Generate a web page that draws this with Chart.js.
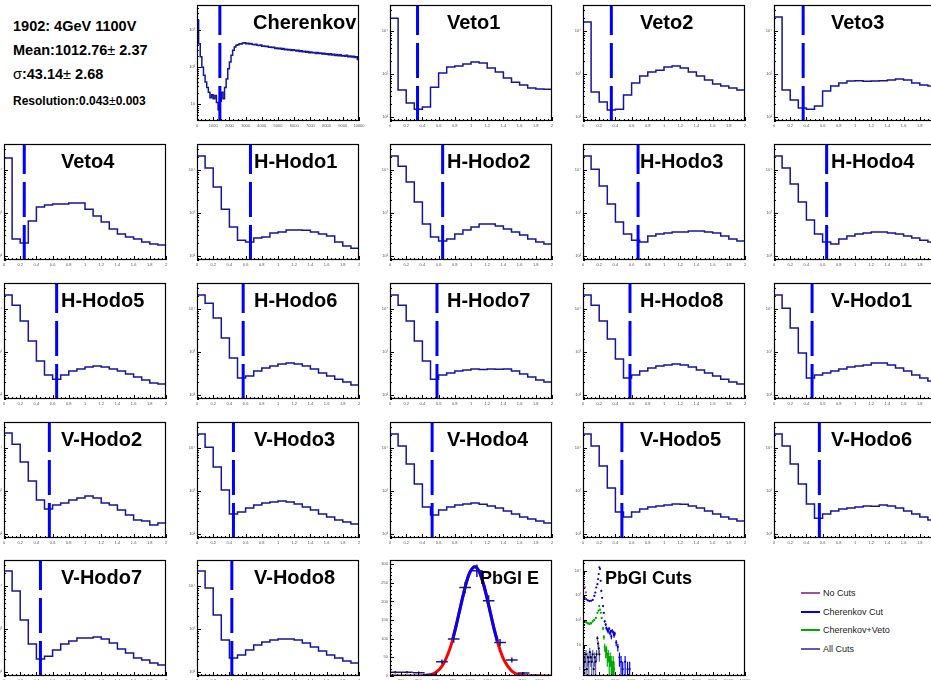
<!DOCTYPE html>
<html>
<head>
<meta charset="utf-8">
<title>1902: 4GeV 1100V</title>
<script src="https://cdn.jsdelivr.net/npm/chart.js@4/dist/chart.umd.min.js"></script>
<style>
  html, body { margin: 0; padding: 0; background: #fff; width: 931px; height: 680px; overflow: hidden; }
  body { position: relative; font-family: "Liberation Sans", Arial, sans-serif; }
  canvas { position: absolute; }
  .info { position: absolute; left: 13px; font-weight: bold; font-size: 14.5px; line-height: 14px; color: #000; white-space: nowrap; }
  .info .sym { font-weight: normal; }
  .lg { position: absolute; left: 801px; height: 10px; font-size: 9px; line-height: 10px; color: #222; white-space: nowrap; }
  .lg span { display: inline-block; width: 19px; height: 2px; vertical-align: middle; margin: -1px 3px 0 0; }
</style>
</head>
<body>
<div class="info" style="top:19px">1902: 4GeV 1100V</div>
<div class="info" style="top:43px">Mean:1012.76<span class="sym">±</span> 2.37</div>
<div class="info" style="top:67px"><span class="sym">σ</span>:43.14<span class="sym">±</span> 2.68</div>
<div class="info" style="top:95px;font-size:12px;line-height:12px">Resolution:0.043<span class="sym">±</span>0.003</div>
<script>
// ---------- data ----------
const hodoEdges = [0, 0.1, 0.2, 0.3, 0.4, 0.5, 0.6, 0.7, 0.8, 0.9, 1.0, 1.1, 1.2, 1.3, 1.4, 1.5, 1.6, 1.7, 1.8, 1.9, 2.0];
const hodoTicks = [0, 0.2, 0.4, 0.6, 0.8, 1.0, 1.2, 1.4, 1.6, 1.8, 2.0];
const hodoRange = [80, 40000];
const hodoYTicks = [100, 1000, 10000];

const veto1 = [19800, 420, 210, 150, 170, 490, 1040, 1440, 1520, 1690, 1880, 1780, 1360, 1100, 800, 640, 550, 470, 445, 440];
const veto2 = [16000, 376, 220, 144, 151, 321, 610, 887, 1100, 1220, 1440, 1520, 1360, 1100, 887, 716, 578, 519, 466, 419];
const veto3 = [20900, 419, 245, 160, 151, 178, 397, 519, 610, 679, 690, 675, 685, 690, 716, 755, 716, 610, 548, 519];
const veto4 = [18800, 245, 198, 643, 1360, 1520, 1600, 1610, 1690, 1700, 1220, 841, 610, 419, 321, 273, 245, 209, 188, 178];
const hHodo1 = [20900, 11000, 3970, 1220, 466, 232, 209, 259, 273, 338, 357, 397, 400, 395, 357, 321, 288, 209, 169, 151];
const hHodo2 = [20900, 12200, 5200, 1780, 548, 273, 220, 245, 321, 397, 466, 548, 550, 492, 419, 357, 304, 245, 209, 188];
const hHodo3 = [20900, 10400, 4200, 1600, 610, 321, 232, 209, 288, 321, 338, 357, 360, 376, 378, 357, 338, 288, 245, 220];
const hHodo4 = [20900, 11000, 4670, 1780, 679, 321, 209, 188, 245, 288, 321, 338, 357, 360, 338, 321, 288, 259, 232, 209];
const hHodo5 = [20900, 12200, 5200, 1780, 610, 288, 232, 288, 357, 397, 442, 466, 442, 397, 357, 304, 259, 220, 188, 178];
const hHodo6 = [20900, 13600, 6110, 2090, 716, 245, 273, 357, 419, 466, 519, 548, 519, 466, 397, 321, 273, 232, 198, 169];
const hHodo7 = [20900, 12200, 5200, 1780, 610, 232, 288, 321, 357, 376, 397, 390, 400, 395, 397, 357, 304, 259, 220, 198];
const hHodo8 = [20900, 12200, 5200, 1980, 679, 245, 288, 357, 419, 466, 492, 519, 492, 442, 376, 321, 273, 232, 198, 178];
const vHodo1 = [20900, 10400, 3570, 935, 245, 288, 321, 357, 397, 442, 466, 492, 548, 550, 492, 419, 357, 288, 245, 209];
const vHodo2 = [22100, 12200, 4670, 1690, 610, 376, 466, 519, 610, 679, 755, 679, 519, 466, 357, 273, 209, 198, 160, 178];
const vHodo3 = [20900, 10400, 3570, 1040, 288, 321, 397, 466, 519, 548, 578, 550, 492, 419, 357, 288, 245, 209, 188, 169];
const vHodo4 = [20900, 11000, 4200, 1440, 419, 273, 357, 419, 466, 492, 519, 490, 442, 397, 338, 288, 245, 220, 198, 178];
const vHodo5 = [20900, 11000, 3770, 1160, 321, 245, 321, 376, 419, 442, 466, 492, 490, 442, 397, 338, 288, 245, 220, 198];
const vHodo6 = [20900, 11000, 4200, 1440, 492, 232, 288, 338, 376, 397, 419, 442, 440, 466, 442, 397, 338, 288, 245, 209];
const vHodo7 = [22100, 7560, 1600, 442, 198, 232, 321, 442, 519, 610, 615, 643, 578, 466, 338, 273, 209, 188, 160, 144];
const vHodo8 = [22100, 8880, 2090, 548, 209, 245, 321, 419, 492, 548, 578, 580, 548, 466, 376, 304, 245, 209, 178, 160];

const hodoNames = ['Veto1', 'Veto2', 'Veto3', 'Veto4', 'H-Hodo1', 'H-Hodo2', 'H-Hodo3', 'H-Hodo4',
  'H-Hodo5', 'H-Hodo6', 'H-Hodo7', 'H-Hodo8', 'V-Hodo1', 'V-Hodo2', 'V-Hodo3', 'V-Hodo4',
  'V-Hodo5', 'V-Hodo6', 'V-Hodo7', 'V-Hodo8'];
const hodoCounts = [veto1, veto2, veto3, veto4, hHodo1, hHodo2, hHodo3, hHodo4, hHodo5, hHodo6,
  hHodo7, hHodo8, vHodo1, vHodo2, vHodo3, vHodo4, vHodo5, vHodo6, vHodo7, vHodo8];
const hodoCuts = [0.34, 0.35, 0.36, 0.25, 0.66, 0.65, 0.68, 0.65, 0.65, 0.57, 0.58, 0.58, 0.47,
  0.56, 0.45, 0.52, 0.48, 0.56, 0.45, 0.43];

const adcTicks = [0, 1000, 2000, 3000, 4000, 5000, 6000, 7000, 8000, 9000, 10000];
const cherenkovBinWidth = 100;
const cherenkovCut = 1410;
const cherenkovRange = [3.5, 4800];
const cherenkovYTicks = [10, 100, 1000];
const cherenkovCounts = [
  1860, 430, 190, 100, 60, 40, 28, 21, 15, 18,
  14, 17, 11, 7, 12, 21, 14, 28, 48, 90,
  137, 210, 285, 350, 390, 405, 430, 425, 450, 460,
  430, 445, 420, 438, 410, 402, 418, 392, 384, 396,
  365, 372, 360, 368, 346, 350, 338, 347, 322, 330,
  316, 326, 306, 318, 296, 303, 293, 299, 281, 294,
  286, 274, 288, 266, 276, 263, 271, 255, 266, 246,
  256, 244, 251, 236, 249, 233, 241, 228, 239, 222,
  231, 218, 229, 213, 223, 208, 219, 203, 216, 199,
  206, 198, 211, 191, 201, 188, 196, 183, 191, 162
];

const pbglCenters = [783, 817, 851, 884, 918, 952, 985, 1019, 1053, 1086, 1120, 1154, 1187];
const pbglCounts = [10, 10, 9, 4, 38, 99, 237, 282, 202, 90, 43, 8, 2];
const pbglBinWidth = 33.6;
const pbglRangeX = [768, 1236];
const pbglRangeY = [0, 311];
const pbglTicksX = [800, 850, 900, 950, 1000, 1050, 1100, 1150, 1200];
const pbglTicksY = [0, 50, 100, 150, 200, 250, 300];
const gausX = [768, 800, 830, 860, 880, 900, 920, 940, 950, 960, 970, 980, 990, 1000, 1013, 1025, 1040, 1050, 1060, 1070, 1080, 1090, 1100, 1120, 1140, 1160, 1180, 1210, 1236];
const gausY = [0, 0, 0.04, 0.55, 2.6, 9.6, 29, 70.5, 101, 138.5, 179, 219, 255, 280, 293, 281, 240, 202, 161, 121.5, 87, 59, 38, 13.3, 3.8, 0.87, 0.16, 0.01, 0];
const fitX = [950, 960, 970, 980, 990, 1000, 1013, 1025, 1040, 1050, 1060, 1070, 1078];
const fitY = [101, 138.5, 179, 219, 255, 280, 293, 281, 240, 202, 161, 121.5, 93.4];

const cutLabels = ['No Cuts', 'Cherenkov Cut', 'Cherenkov+Veto', 'All Cuts'];
const cutColors = ['#a050a0', '#0000ee', '#00aa00', '#5a5ab8'];
const cutsRange = [0.53, 27000];
const cutsYTicks = [1, 10, 100, 1000, 10000];
const noCutsX = [60, 120, 180];
const noCutsY = [3300, 2100, 1300];
const cherCutX = [100, 200, 300, 400, 500, 600, 700, 760, 820, 890, 930, 970, 1010, 1050, 1090, 1130, 1180, 1240, 1280, 1340, 1400, 1440, 1500, 1550, 1610, 1670, 1710, 1750, 1810, 1880, 1920, 1960, 2050, 2150, 2250, 2350, 2450, 2600, 2750, 2880];
const cherCutY = [790, 685, 620, 585, 600, 650, 940, 1290, 2070, 2820, 4550, 7300, 13700, 11700, 3870, 1500, 790, 365, 195, 88, 65, 47, 40, 34, 44, 29, 34, 21, 36, 30, 24, 28, 12, 8, 3, 2, 1, 2, 1, 1];
const vetoCutX = [100, 200, 300, 400, 500, 600, 700, 800, 890, 960, 1000, 1050, 1100, 1150, 1240, 1290, 1340, 1400, 1450, 1500, 1560, 1620, 1680, 1740, 1800, 1860, 1920];
const vetoCutY = [88, 80, 74, 69, 74, 88, 100, 120, 195, 240, 365, 260, 195, 120, 45, 20, 8, 5, 6, 3, 4, 2, 3, 2, 1, 2, 1];
const allCutsX = [60, 120, 180, 240, 300, 360, 420, 480, 540, 600, 660, 720, 780, 840, 890, 930, 970, 1010];
const allCutsY = [3, 2, 4, 1, 3, 2, 5, 3, 2, 4, 1, 3, 2, 4, 18, 11, 7, 4];

// ---------- layout ----------
const colLeft = [4, 197, 390, 583, 774];
const rowTop = [5, 144, 283, 422, 560];
const frameW = 162, frameH = 116;
const pad = {left: 16, top: 4, right: 6, bottom: 12};
const histColor = '#15159e';
const cutColor = '#0000ff';
const sup = {2: '\u00b2', 3: '\u00b3', 4: '\u2074'};

Chart.defaults.font.family = '"Liberation Sans", Arial, sans-serif';

function logLabel(v) {
  const e = Math.round(Math.log10(v));
  return e === 0 ? '1' : e === 1 ? '10' : '10' + sup[e];
}

function linMarks(values, min, max, nSub) {
  const out = [];
  const sub = (values[1] - values[0]) / nSub;
  const k0 = Math.ceil((min - values[0]) / sub - 1e-6);
  for (let k = k0; values[0] + k * sub <= max + 1e-6; k++) {
    out.push([values[0] + k * sub, ((k % nSub) + nSub) % nSub === 0]);
  }
  return out;
}

function logMarks(min, max) {
  const out = [];
  for (let e = Math.floor(Math.log10(min)); e <= Math.ceil(Math.log10(max)); e++) {
    for (let m = 1; m <= 9; m++) {
      const v = m * Math.pow(10, e);
      if (v >= min && v <= max) out.push([v, m === 1]);
    }
  }
  return out;
}

// frame, inner tick marks, tiny labels and the big pad title, ROOT style
const rootFrame = {
  id: 'rootFrame',
  afterDatasetsDraw(chart, args, o) {
    const {ctx, chartArea: a} = chart;
    const xs = chart.scales.x, ys = chart.scales.y;
    ctx.save();
    ctx.strokeStyle = '#000';
    ctx.lineWidth = 1;
    ctx.beginPath();
    const xm = linMarks(xs.ticks.map(t => t.value), xs.min, xs.max, 4);
    xm.forEach(([v, major]) => {
      const p = Math.round(xs.getPixelForValue(v)) + 0.5;
      ctx.moveTo(p, a.bottom);
      ctx.lineTo(p, a.bottom - (major ? 4 : 2));
    });
    const ym = ys.type === 'logarithmic' ? logMarks(ys.min, ys.max)
      : linMarks(ys.ticks.map(t => t.value), ys.min, ys.max, 5);
    ym.forEach(([v, major]) => {
      const p = Math.round(ys.getPixelForValue(v)) + 0.5;
      ctx.moveTo(a.left, p);
      ctx.lineTo(a.left + (major ? 4 : 2), p);
    });
    ctx.stroke();
    ctx.lineWidth = 1.2;
    ctx.strokeRect(a.left + 0.5, a.top + 0.5, a.right - a.left - 1, a.bottom - a.top - 1);

    // axis labels (tiny, as in the original canvas)
    ctx.fillStyle = '#555';
    ctx.font = '4px "Liberation Sans", Arial, sans-serif';
    ctx.textAlign = 'center';
    ctx.textBaseline = 'top';
    xs.ticks.forEach(t => ctx.fillText(t.label, xs.getPixelForValue(t.value), a.bottom + 3));
    ctx.textAlign = 'right';
    ctx.textBaseline = 'middle';
    ys.ticks.forEach(t => ctx.fillText(t.label, a.left - 2, ys.getPixelForValue(t.value)));

    ctx.beginPath();
    ctx.rect(a.left, a.top, a.right - a.left + 1, a.bottom - a.top);
    ctx.clip();
    ctx.fillStyle = '#000';
    ctx.textAlign = 'left';
    ctx.font = 'bold ' + o.size + 'px "Liberation Sans", Arial, sans-serif';
    ctx.textBaseline = 'alphabetic';
    ctx.fillText(o.title, a.left + o.dx, a.top + 24);
    ctx.restore();
  }
};

function axis(type, range, ticks, fmt) {
  return {
    type, min: range[0], max: range[1], bounds: 'data',
    afterFit: s => { if (s.isHorizontal()) s.height = 0; else s.width = 0; },
    afterBuildTicks: s => { s.ticks = ticks.map(v => ({value: v})); },
    grid: {display: false, drawTicks: false},
    border: {display: false},
    ticks: {display: false, autoSkip: false, maxRotation: 0, callback: fmt}
  };
}

function makePanel(slot, title, dx, size, datasets, xAxis, yAxis) {
  const r = Math.floor(slot / 5), c = slot % 5;
  const cv = document.createElement('canvas');
  cv.width = frameW + pad.left + pad.right;
  cv.height = frameH + pad.top + pad.bottom;
  cv.style.left = (colLeft[c] - pad.left) + 'px';
  cv.style.top = (rowTop[r] - pad.top) + 'px';
  document.body.appendChild(cv);
  new Chart(cv, {
    type: 'line',
    data: {datasets},
    options: {
      responsive: false, animation: false, devicePixelRatio: 1,
      layout: {padding: pad},
      plugins: {legend: {display: false}, tooltip: {enabled: false}, rootFrame: {title, dx, size}},
      scales: {x: xAxis, y: yAxis}
    },
    plugins: [rootFrame]
  });
}

function histPoints(edges, counts) {
  const pts = counts.map((v, i) => ({x: edges[i], y: v}));
  pts.push({x: edges[counts.length], y: counts[counts.length - 1]});
  return pts;
}

function histSet(edges, counts) {
  return {data: histPoints(edges, counts), stepped: true, borderColor: histColor, borderWidth: 1.5, pointRadius: 0, fill: false};
}

function cutSet(x, range) {
  return {data: [{x, y: range[0]}, {x, y: range[1]}], borderColor: cutColor, borderWidth: 3, borderDash: [35, 8], pointRadius: 0, fill: false};
}

// error bars as broken line segments (gaps at null)
function errorPoints(xv, yv, halfWidth, floor) {
  const pts = [];
  xv.forEach((x, i) => {
    const v = yv[i];
    if (v <= 0) return;
    const e = Math.sqrt(v);
    if (halfWidth) pts.push({x: x - halfWidth, y: v}, {x: x + halfWidth, y: v}, {x, y: null});
    pts.push({x, y: Math.max(v - e, floor)}, {x, y: v + e}, {x, y: null});
  });
  return pts;
}

const hodoX = () => axis('linear', [0, 2], hodoTicks, v => String(+v.toFixed(1)));
const hodoY = () => axis('logarithmic', hodoRange, hodoYTicks, logLabel);

// Cherenkov
const cherEdges = cherenkovCounts.map((v, i) => i * cherenkovBinWidth).concat([cherenkovCounts.length * cherenkovBinWidth]);
makePanel(1, 'Cherenkov', 56, 20,
  [cutSet(cherenkovCut, cherenkovRange), histSet(cherEdges, cherenkovCounts)],
  axis('linear', [0, 10000], adcTicks, v => String(v)),
  axis('logarithmic', cherenkovRange, cherenkovYTicks, logLabel));

// Veto and hodoscope panels
hodoNames.forEach((name, i) => {
  makePanel(i + 2, name, 57, 20,
    [cutSet(hodoCuts[i], hodoRange), histSet(hodoEdges, hodoCounts[i])],
    hodoX(), hodoY());
});

// PbGl energy with gaussian fit
makePanel(22, 'PbGl E', 90, 18, [
  {data: errorPoints(pbglCenters, pbglCounts, pbglBinWidth / 2, 0), borderColor: histColor, borderWidth: 1.5, pointRadius: 0, spanGaps: false},
  {data: fitX.map((x, i) => ({x, y: fitY[i]})), borderColor: '#0000ff', borderWidth: 3, pointRadius: 0, cubicInterpolationMode: 'monotone'},
  {data: gausX.map((x, i) => ({x, y: gausY[i]})), borderColor: '#ff0000', borderWidth: 3, pointRadius: 0, cubicInterpolationMode: 'monotone'}
], axis('linear', pbglRangeX, pbglTicksX, v => String(v)),
   axis('linear', pbglRangeY, pbglTicksY, v => String(v)));

// PbGl with cuts
const cutSeries = [[noCutsX, noCutsY], [cherCutX, cherCutY], [vetoCutX, vetoCutY], [allCutsX, allCutsY]];
const cutsSets = [];
cutSeries.forEach(([xv, yv], i) => {
  const marker = i === 3 ? '#000' : cutColors[i];
  cutsSets.unshift(
    {data: xv.map((x, k) => ({x, y: yv[k]})), showLine: false, pointRadius: 1.1, pointBorderWidth: 0, pointBackgroundColor: marker},
    {data: errorPoints(xv, yv, 0, cutsRange[0]), borderColor: cutColors[i], borderWidth: 1.2, pointRadius: 0, spanGaps: false}
  );
});
makePanel(23, 'PbGl Cuts', 22, 18, cutsSets,
  axis('linear', [0, 10000], adcTicks, v => String(v)),
  axis('logarithmic', cutsRange, cutsYTicks, logLabel));

// legend for the cut panel
const legendRows = [593, 612, 630, 649];
cutLabels.forEach((lab, i) => {
  const row = document.createElement('div');
  row.className = 'lg';
  row.style.top = (legendRows[i] - 5) + 'px';
  const sw = document.createElement('span');
  sw.style.background = cutColors[i];
  row.appendChild(sw);
  row.appendChild(document.createTextNode(lab));
  document.body.appendChild(row);
});
</script>
</body>
</html>
